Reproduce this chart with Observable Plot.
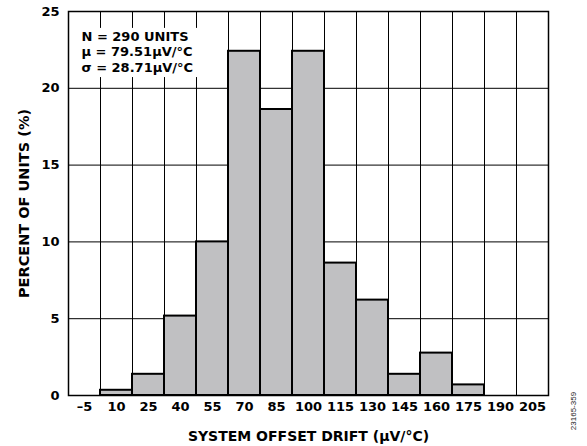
<!DOCTYPE html>
<html>
<head>
<meta charset="utf-8">
<script src="https://cdn.jsdelivr.net/npm/d3@7"></script>
<script src="https://cdn.jsdelivr.net/npm/@observablehq/plot@0.6"></script>
<style>
  html, body { margin: 0; padding: 0; background: #fff; }
  #chart { position: relative; width: 587px; height: 446px; }
  #code { position: absolute; left: 573px; top: 411px; font: 8px "Liberation Sans", Arial, sans-serif; color: #222;
          transform: translate(-50%, -50%) rotate(-90deg); white-space: nowrap; }
</style>
</head>
<body>
<div id="chart"><div id="code">23165-359</div></div>
<script>
const binCenters = [-5, 10, 25, 40, 55, 70, 85, 100, 115, 130, 145, 160, 175, 190, 205];
const percents   = [0, 0.34, 1.38, 5.17, 10.0, 22.41, 18.62, 22.41, 8.62, 6.21, 1.38, 2.76, 0.69, 0, 0];
const yTicks = [0, 5, 10, 15, 20, 25];
const statsLines = ["N = 290 UNITS", "μ = 79.51μV/°C", "σ = 28.71μV/°C"];
const binWidth = 15;

const bins = binCenters.map((c, i) => ({center: c, x1: c - binWidth / 2, x2: c + binWidth / 2, pct: percents[i]}));
const edges = [bins[0].x1, ...bins.map(b => b.x2)];
const FONT = "'DejaVu Sans', sans-serif";
const FS = 13;

const chart = Plot.plot({
  width: 587,
  height: 446,
  marginLeft: 68,
  marginRight: 39,
  marginTop: 11,
  marginBottom: 51,
  style: `font-family: ${FONT}; font-size: ${FS}px; font-weight: bold; color: #000; background: #fff;`,
  x: {domain: [edges[0], edges[edges.length - 1]]},
  y: {domain: [0, 25]},
  marks: [
    Plot.ruleX(edges, {stroke: "#000", strokeWidth: 1}),
    Plot.ruleY(yTicks, {stroke: "#000", strokeWidth: 1}),
    Plot.rect([0], {x1: edges[0], x2: 52, y1: 20.7, y2: 23.9, fill: "#fff"}),
    Plot.rectY(bins.filter(b => b.pct > 0), {x1: "x1", x2: "x2", y1: 0, y2: "pct", fill: "#c0c0c2", stroke: "#000", strokeWidth: 2}),
    Plot.text([statsLines.join("\n")], {x: edges[0], y: 23.9, dx: 13, dy: 2, text: d => d, textAnchor: "start", lineAnchor: "top",
      lineHeight: 1.17, fontSize: FS, fontFamily: FONT, fontWeight: "bold", fill: "#000"}),
    Plot.axisX(binCenters, {ticks: binCenters, tickSize: 0, tickPadding: 6, tickFormat: d => d < 0 ? "\u2013" + Math.abs(d) : String(d),
      fontSize: FS, fontFamily: FONT, fontWeight: "bold", fill: "#000", label: null}),
    Plot.axisX({ticks: [], tickSize: 0, fontSize: 14, fontFamily: FONT, fontWeight: "bold", fill: "#000",
      label: "SYSTEM OFFSET DRIFT (µV/°C)", labelAnchor: "center", labelArrow: "none", labelOffset: 45}),
    Plot.axisY(yTicks, {ticks: yTicks, tickSize: 0, tickPadding: 9, fontSize: FS, fontFamily: FONT, fontWeight: "bold", fill: "#000", label: null}),
    Plot.axisY({ticks: [], tickSize: 0, fontSize: 14.5, fontFamily: FONT, fontWeight: "bold", fill: "#000",
      label: "PERCENT OF UNITS (%)", labelAnchor: "center", labelArrow: "none", labelOffset: 50}),
    Plot.frame({stroke: "#000", strokeWidth: 1.5})
  ]
});
document.getElementById("chart").prepend(chart);
</script>
</body>
</html>
